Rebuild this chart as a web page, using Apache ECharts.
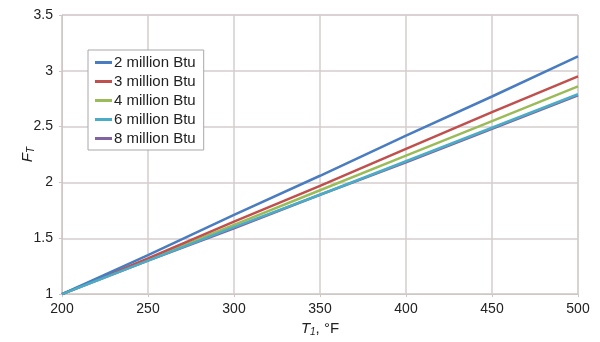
<!DOCTYPE html>
<html><head><meta charset="utf-8">
<script src="https://cdn.jsdelivr.net/npm/echarts@6/dist/echarts.min.js"></script>
<style>html,body{margin:0;padding:0;background:#fff}#c{width:600px;height:342px}</style>
</head><body><div id="c"></div>
<script>
var temps = [200, 250, 300, 350, 400, 450, 500];
var seriesNames = ['2 million Btu', '3 million Btu', '4 million Btu', '6 million Btu', '8 million Btu'];
var ft2 = [1, 1.35, 1.71, 2.06, 2.42, 2.77, 3.13];
var ft3 = [1, 1.32, 1.65, 1.97, 2.30, 2.63, 2.95];
var ft4 = [1, 1.31, 1.62, 1.93, 2.24, 2.55, 2.86];
var ft6 = [1, 1.30, 1.60, 1.89, 2.19, 2.49, 2.79];
var ft8 = [1, 1.30, 1.59, 1.89, 2.18, 2.48, 2.78];
var colors = ['#4a7cc0', '#c0504d', '#9bbb59', '#4bacc6', '#8064a2'];
var font = '"Liberation Sans", Arial, sans-serif';
var allData = [ft2, ft3, ft4, ft6, ft8];
var order = [4, 2, 1, 0, 3];
var series = [];
order.forEach(function (k) {
  series.push({
    name: seriesNames[k], type: 'line', showSymbol: false, symbol: 'none',
    data: temps.map(function (t, i) { return [t, allData[k][i]]; }),
    lineStyle: { width: 2.5, color: colors[k] }, itemStyle: { color: colors[k] }
  });
});
var chart = echarts.init(document.getElementById('c'), null, { renderer: 'canvas' });
chart.setOption({
  animation: false,
  backgroundColor: '#fff',
  textStyle: { fontFamily: font },
  grid: { left: 62, right: 22, top: 15, bottom: 47, show: true, borderColor: '#cfc6c6', borderWidth: 1 },
  legend: {
    data: seriesNames, orient: 'vertical', left: 88, top: 50,
    icon: 'rect', itemWidth: 17, itemHeight: 3, itemGap: 4,
    padding: [5, 8, 4, 7], borderColor: '#a8a8a8', borderWidth: 1, backgroundColor: '#fff',
    textStyle: { fontFamily: font, fontSize: 15, color: '#222', padding: [0, 0, 0, -3] }
  },
  xAxis: {
    type: 'value', min: 200, max: 500, interval: 50,
    name: '{i|T}{s|1}{n|, °F}', nameLocation: 'middle', nameGap: 25,
    nameTextStyle: { rich: {
      i: { fontFamily: font, fontSize: 15, fontStyle: 'italic', color: '#222' },
      s: { fontFamily: font, fontSize: 10, fontStyle: 'italic', color: '#222', padding: [7, 0, 0, 0] },
      n: { fontFamily: font, fontSize: 15, color: '#222' } } },
    axisLine: { show: true, lineStyle: { color: '#cfc6c6' } },
    axisTick: { show: true, length: 3, lineStyle: { color: '#cfc6c6' } },
    axisLabel: { fontFamily: font, fontSize: 14, color: '#222', margin: 8 },
    splitLine: { show: true, lineStyle: { color: '#d6cccc', width: 1.5 } }
  },
  yAxis: {
    type: 'value', min: 1, max: 3.5, interval: 0.5,
    name: '{i|F}{s|T}', nameLocation: 'middle', nameGap: 26, nameRotate: 90,
    nameMoveOverlap: false,
    nameTextStyle: { rich: {
      i: { fontFamily: font, fontSize: 15, fontStyle: 'italic', color: '#222' },
      s: { fontFamily: font, fontSize: 10, fontStyle: 'italic', color: '#222', padding: [7, 0, 0, 0] } } },
    axisLine: { show: true, lineStyle: { color: '#cfc6c6' } },
    axisTick: { show: true, length: 3, lineStyle: { color: '#cfc6c6' } },
    axisLabel: { fontFamily: font, fontSize: 14, color: '#222', margin: 9 },
    splitLine: { show: true, lineStyle: { color: '#d6cccc', width: 1.5 } }
  },
  series: series
});
</script></body></html>
